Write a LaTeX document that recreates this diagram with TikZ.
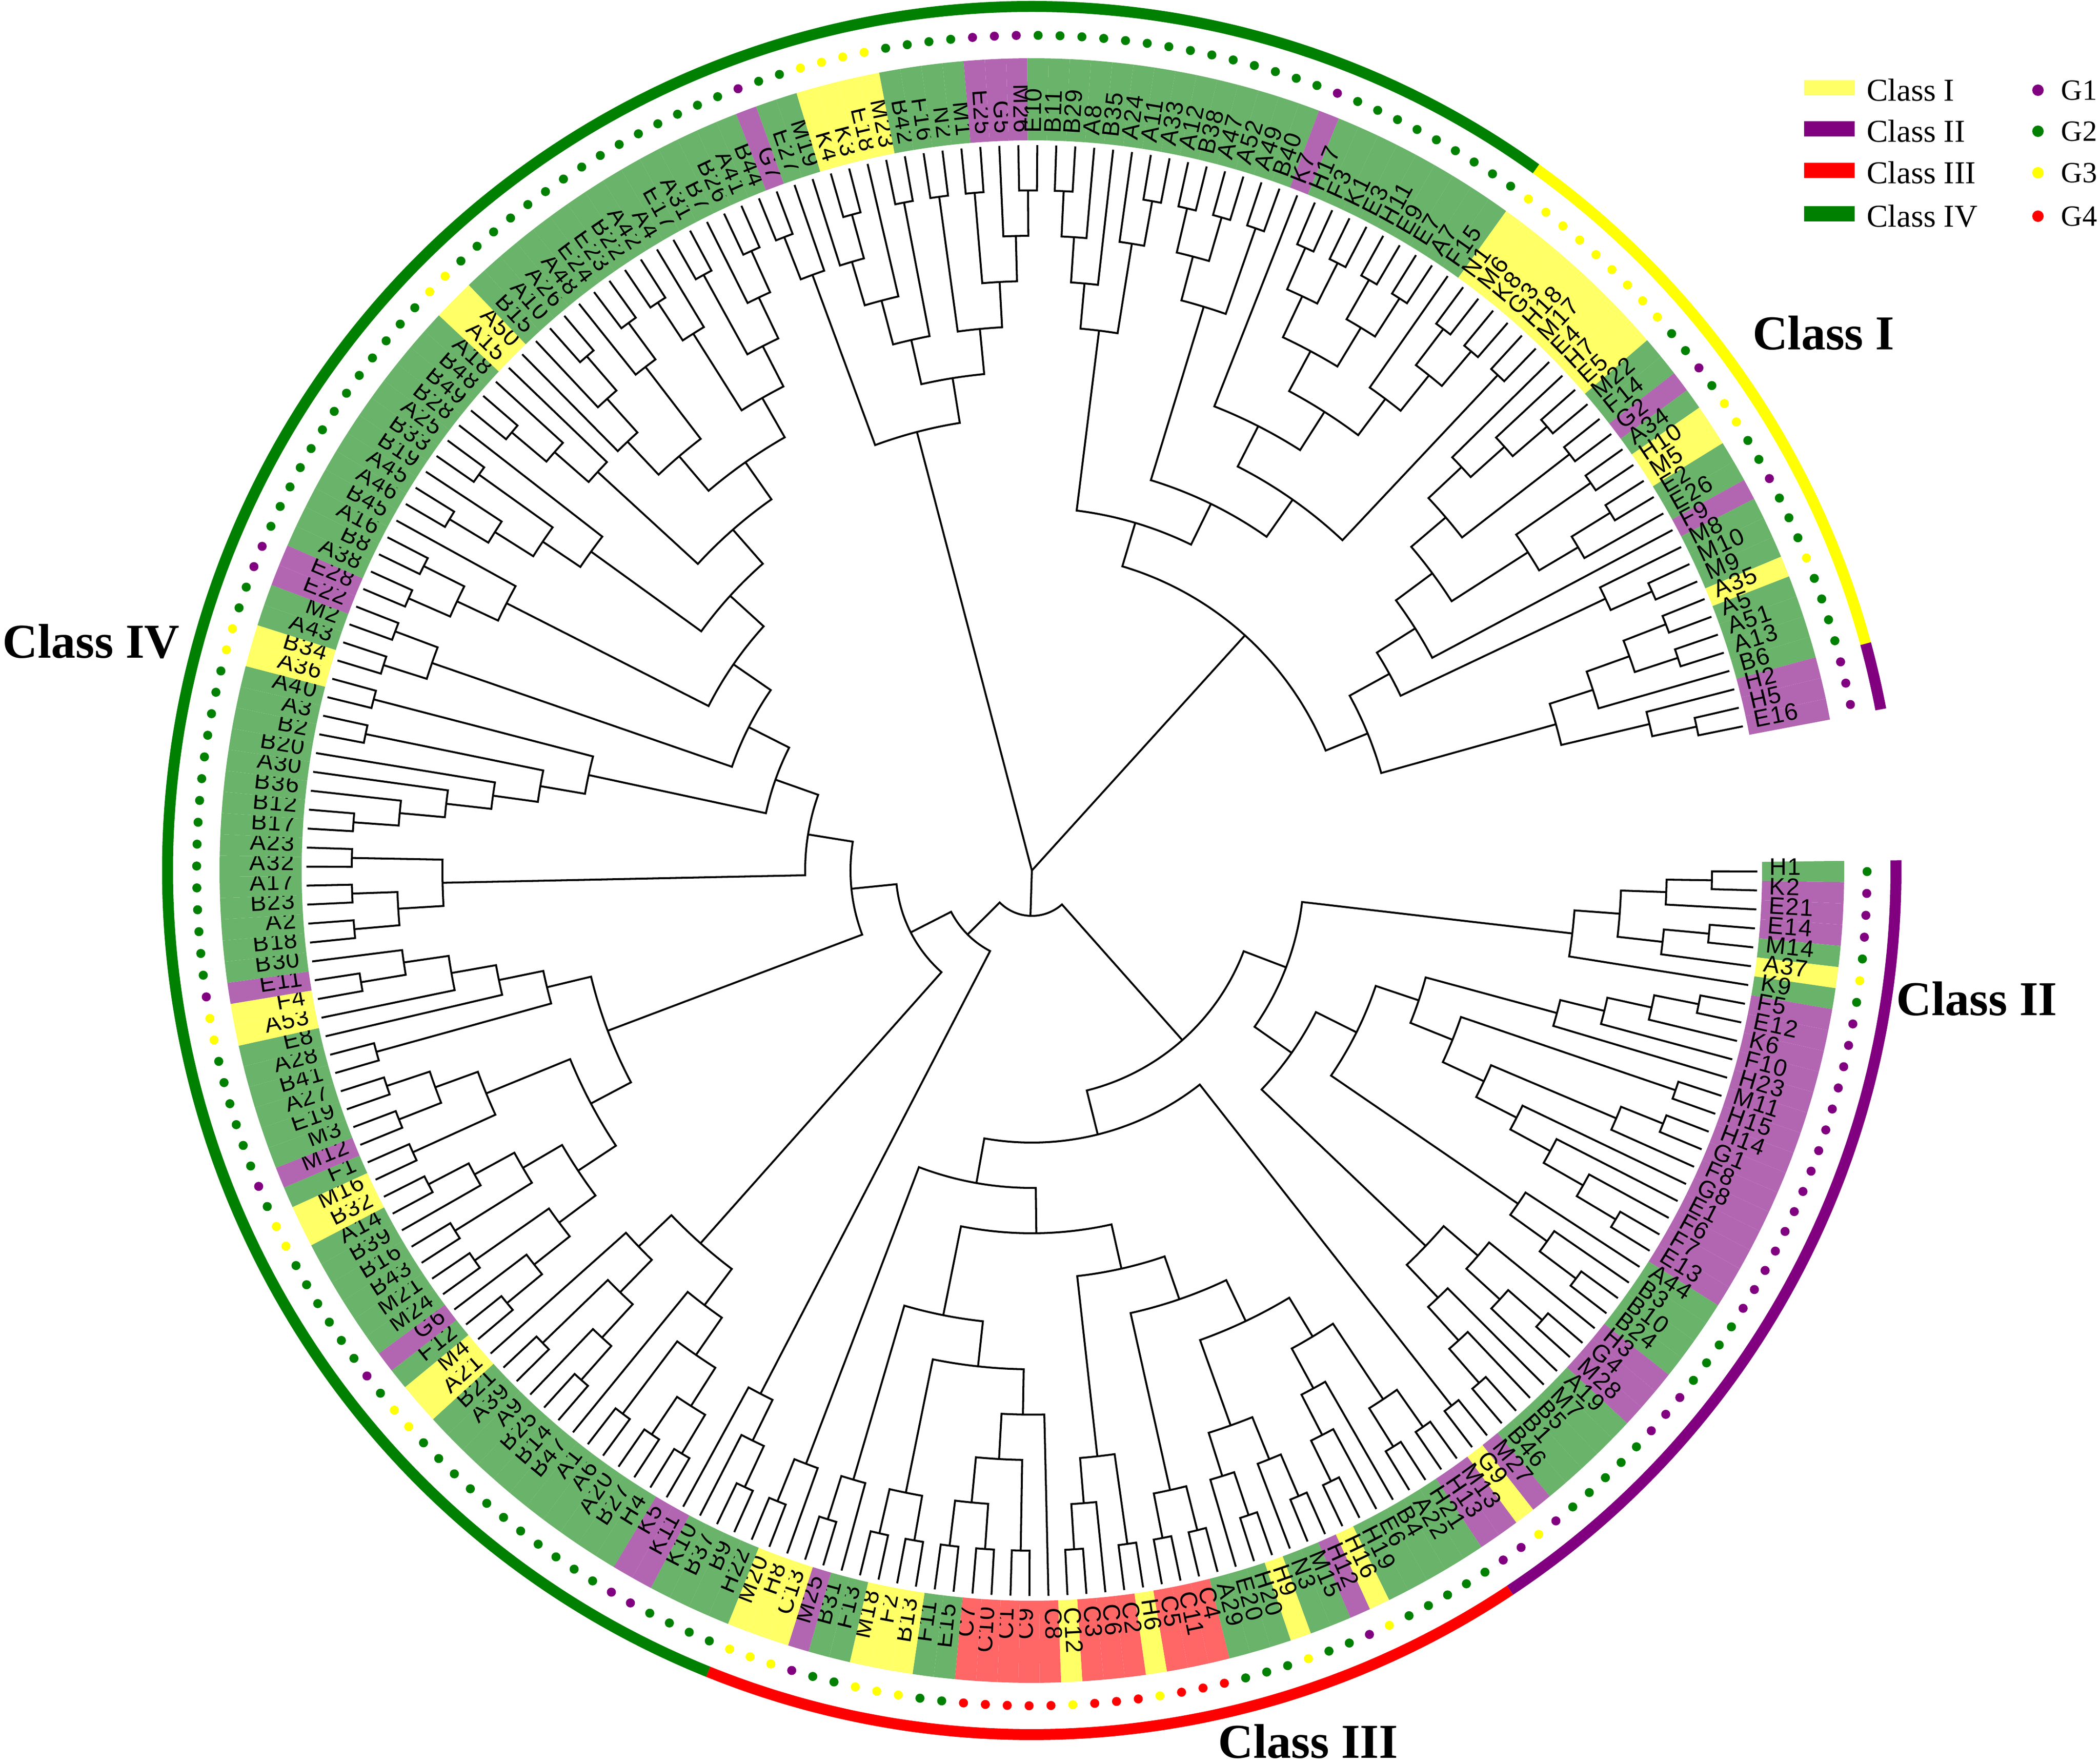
\documentclass[tikz,border=0pt]{standalone}
\usepackage{fontspec}
\setmainfont{Liberation Serif}
\newfontfamily\leaffont[LetterSpace=4]{Liberation Sans}
\definecolor{bandg}{HTML}{6AB36A}
\definecolor{bandp}{HTML}{B266B2}
\definecolor{bandy}{HTML}{FFFF66}
\definecolor{bandr}{HTML}{FF6666}
\definecolor{dotg}{HTML}{008000}
\definecolor{dotp}{HTML}{800080}
\definecolor{doty}{HTML}{FFFF00}
\definecolor{dotr}{HTML}{FF0000}
\tikzset{
  branch/.style={draw=black,line width=1.15pt,line join=miter},
  leaflabel/.style={font=\leaffont\fontsize{14.3pt}{14.5pt}\selectfont,inner sep=0pt},
  classlabel/.style={font=\bfseries\fontsize{29pt}{30pt}\selectfont,inner sep=0pt},
  ringpart/.style={line width=.23cm},
  swatch/.style={minimum width=1.06cm,minimum height=.32cm,inner sep=0pt},
  legendtext/.style={font=\fontsize{19pt}{20pt}\selectfont,inner sep=0pt,anchor=west},
  legenddot/.style={font=\fontsize{17.5pt}{18pt}\selectfont,inner sep=0pt,anchor=west}
}
% tree walk: each clade leaves its angle and height behind
\newcount\leafno
\leafno=-1
\newcommand\lf{\global\advance\leafno by 1
  \pgfmathsetmacro\tmpang{.07+1.502*\the\leafno}\xdef\retang{\tmpang}\xdef\rethgt{0}}
\newcommand\nd[2]{\begingroup
  #1\let\anga\retang\let\hgta\rethgt
  #2\let\angb\retang\let\hgtb\rethgt
  \pgfmathtruncatemacro\hgt{max(\hgta,\hgtb)+1}
  \pgfmathsetmacro\rad{15.2-.95*\hgt}
  \pgfmathsetmacro\rada{15.2-.95*\hgta}
  \pgfmathsetmacro\radb{15.2-.95*\hgtb}
  \pgfmathsetmacro\angm{(\anga+\angb)/2}
  \draw[branch] (-\anga:\rada) -- (-\anga:\rad)
    arc[start angle=-\anga,end angle=-\angb,radius=\rad] -- (-\angb:\radb);
  \xdef\retang{\angm}\xdef\rethgt{\hgt}\endgroup}
\newcommand\tw{\nd\lf\lf}
\newcommand\stemin{\pgfmathsetmacro\rad{15.2-.95*\rethgt}\draw[branch] (-\retang:\rad) -- (0,0);}
% clades, in leaf order
\newcommand\cladeA{\nd{\nd{\nd\tw\lf}{\nd\tw\lf}}\lf}
\newcommand\cladeB{\nd{\nd{\nd{\nd\tw\lf}\lf}\lf}{\nd\tw{\nd{\nd\tw\lf}{\nd\lf{\nd\lf{\nd\lf\tw}}}}}}
\newcommand\cladeC{\nd{\nd\cladeB{\nd\lf{\nd\lf\tw}}}{\nd{\nd\lf{\nd\tw\lf}}{\nd\lf{\nd\lf\tw}}}}
\newcommand\cladeD{\nd{\nd{\nd{\nd{\nd\tw\tw}{\nd\lf{\nd\lf\tw}}}{\nd{\nd\tw\lf}{\nd\tw\lf}}}{\nd\tw\tw}}{\nd\tw{\nd\lf\tw}}}
\newcommand\cladeE{\nd{\nd{\nd\lf{\nd\tw{\nd\tw\tw}}}{\nd\tw\tw}}{\nd\lf\tw}}
\newcommand\cladeF{\nd\tw{\nd{\nd\cladeD\cladeE}{\nd\lf\tw}}}
\newcommand\cladeG{\nd{\nd{\nd{\nd\tw\tw}\tw}\lf}{\nd{\nd{\nd\tw\lf}\tw}\lf}}
\newcommand\cladeH{\nd{\nd{\nd{\nd\tw\lf}\tw}{\nd\tw{\nd\lf\tw}}}{\nd\tw{\nd\tw\tw}}}
\newcommand\cladeI{\nd\tw{\nd\lf{\nd\lf{\nd\tw\lf}}}}
\newcommand\cladeJ{\nd{\nd{\nd{\nd{\nd\tw\lf}\lf}\lf}\tw}\tw}
\newcommand\cladeK{\nd{\nd{\nd\tw\lf}\tw}\lf}
\newcommand\cladeL{\nd{\nd\lf{\nd\lf\tw}}{\nd\lf\tw}}
\newcommand\cladeM{\nd{\nd\tw\lf}{\nd\tw{\nd\lf\tw}}}
\newcommand\cladeN{\nd{\nd{\nd\tw\lf}\lf}{\nd\cladeL\cladeM}}
\newcommand\cladeO{\nd{\nd\tw\tw}{\nd{\nd{\nd\tw\tw}\lf}{\nd\cladeK\cladeN}}}
\newcommand\cladeQ{\nd{\nd\tw\lf}{\nd{\nd{\nd{\nd\lf\tw}\lf}\tw}{\nd\tw{\nd\tw{\nd\lf\tw}}}}}
\newcommand\cladeR{\nd{\nd{\nd{\nd\tw\lf}\lf}{\nd\lf\tw}}{\nd{\nd{\nd\tw\tw}\tw}{\nd{\nd\lf{\nd{\nd{\nd\tw\tw}{\nd\tw\tw}}{\nd\lf{\nd\tw\tw}}}}\tw}}}
\newcommand\cladeS{\nd{\nd{\nd{\nd{\nd\lf{\nd\lf\tw}}\tw}{\nd\tw{\nd\tw\lf}}}\lf}{\nd\lf\tw}}
\newcommand\cladeT{\nd\cladeS{\nd{\nd{\nd\tw\tw}\lf}{\nd\lf\tw}}}
\begin{document}
\begin{tikzpicture}
  \useasboundingbox (-21.62,-18.72) rectangle (22.38,18.24);
  % bands, dots and labels, one per leaf
  \foreach \nm/\cl [count=\i from 0] in {H1/g,K2/p,E21/p,E14/p,M14/g,A37/y,K9/g,F5/p,E12/p,K6/p,F10/p,H23/p,M11/p,H15/p,H14/p,G1/p,F8/p,G8/p,E1/p,F6/p,F7/p,E13/p,
    A44/g,B3/g,B10/g,B24/g,H3/p,G4/p,M28/p,A19/g,M7/g,B5/g,B1/g,B46/g,M27/p,G9/y,M13/p,H13/p,H21/g,A22/g,B4/g,E6/g,H19/g,H16/y,H12/p,M15/g,N3/g,H9/y,H20/g,E20/g,A29/g,
    C4/r,C11/r,C5/r,H6/y,C2/r,C6/r,C3/r,C12/y,C8/r,C9/r,C1/r,C10/r,C7/r,E15/g,F11/g,B13/y,F2/y,M18/y,F13/g,B31/g,M25/p,C13/y,H8/y,M20/y,H22/g,B9/g,B37/g,K10/g,K11/p,K5/p,
    H4/g,B27/g,A20/g,A6/g,A1/g,B47/g,B14/g,B25/g,A9/g,A39/g,B21/g,A21/y,M4/y,F12/g,G6/p,M24/g,M21/g,B43/g,B16/g,B39/g,A14/g,B32/y,M16/y,F1/g,M12/p,M3/g,E19/g,A27/g,B41/g,A28/g,
    E8/g,A53/y,F4/y,E11/p,B30/g,B18/g,A2/g,B23/g,A17/g,A32/g,A23/g,B17/g,B12/g,B36/g,A30/g,B20/g,B2/g,A3/g,A40/g,A36/y,B34/y,A43/g,M2/g,E22/p,E28/p,A38/g,B8/g,A16/g,B45/g,
    A46/g,A45/g,B19/g,B33/g,A25/g,B28/g,B49/g,B48/g,A18/g,A15/y,A50/y,B15/g,A10/g,A26/g,A48/g,E24/g,E23/g,B22/g,A42/g,A4/g,E17/g,A31/g,B7/g,B26/g,A41/g,B44/g,G7/p,E27/g,M19/g,
    K4/y,K3/y,E18/y,M23/y,B42/g,F16/g,N2/g,M1/g,E25/p,G5/p,M26/p,E10/g,B11/g,B29/g,A8/g,B35/g,A24/g,A11/g,A33/g,A12/g,B38/g,A47/g,A52/g,A49/g,B40/g,K7/p,H17/g,F3/g,K1/g,E3/g,
    H11/g,E9/g,E7/g,A7/g,F15/g,N1/y,M6/y,K8/y,G3/y,H18/y,M17/y,E4/y,H7/y,E5/y,M22/g,F14/g,G2/p,A34/g,H10/y,M5/y,E2/g,E26/g,F9/p,M8/g,M10/g,M9/g,A35/y,A5/g,A51/g,A13/g,B6/g,H2/p,H5/p,E16/p}
  {
    \pgfmathsetmacro\ang{.07+1.502*\i}
    \pgfmathsetmacro\angl{-(\ang-.751)}
    \pgfmathsetmacro\angr{-(\ang+.751)}
    \fill[band\cl] (\angl:15.3) arc[start angle=\angl,end angle=\angr,radius=15.3]
      -- (\angr:17.02) arc[start angle=\angr,end angle=\angl,radius=17.02] -- cycle;
    \fill[dot\cl] (-\ang:17.5) circle (.095);
    \ifdim\ang pt<90pt
      \node[leaflabel,anchor=mid west,rotate=-\ang] (leaf\i) at (-\ang:15.45) {\nm};
    \else\ifdim\ang pt>270pt
      \node[leaflabel,anchor=mid west,rotate=-\ang] (leaf\i) at (-\ang:15.45) {\nm};
    \else
      \node[leaflabel,anchor=mid east,rotate=180-\ang] (leaf\i) at (-\ang:15.45) {\nm};
    \fi\fi
  }
  % outer ring
  \foreach \from/\to/\c in {-.68/56.4/dotp,56.4/112/dotr,112/305.7/dotg,305.7/344.78/doty,344.78/349.25/dotp}
    \draw[ringpart,\c] (-\from:18.105) arc[start angle=-\from,end angle=-\to,radius=18.105];
  % tree
  \nd{\nd{\nd\cladeA\cladeC}\cladeF}{\nd{\nd{\nd\tw\lf}\lf}{\nd\cladeG{\nd{\nd\cladeH\cladeI}{\nd{\nd{\nd\tw\tw}\tw}{\nd\cladeJ\cladeO}}}}}
  \stemin
  \cladeQ
  \stemin
  \nd\cladeR\cladeT
  \stemin
  % class names
  \node[classlabel] (classI) at (16.59,11.26) {Class I};
  \node[classlabel] (classII) at (19.80,-2.69) {Class II};
  \node[classlabel] (classIII) at (5.79,-18.25) {Class III};
  \node[classlabel] (classIV) at (-19.71,4.80) {Class IV};
  % legend
  \foreach \t/\c/\g/\d/\y in {Class I/bandy/G1/dotp/16.40,Class II/dotp/G2/dotg/15.54,Class III/dotr/G3/doty/14.67,Class IV/dotg/G4/dotr/13.76}{
    \node[swatch,fill=\c] (sw\g) at (16.71,\y) {};
    \node[legendtext] at ([xshift=.24cm,yshift=-.05cm]sw\g.east) {\t};
    \fill[\d] (21.08,\y-.05) circle (.12);
    \node[legenddot] at (21.56,\y-.05) {\g};
  }
\end{tikzpicture}
\end{document}
